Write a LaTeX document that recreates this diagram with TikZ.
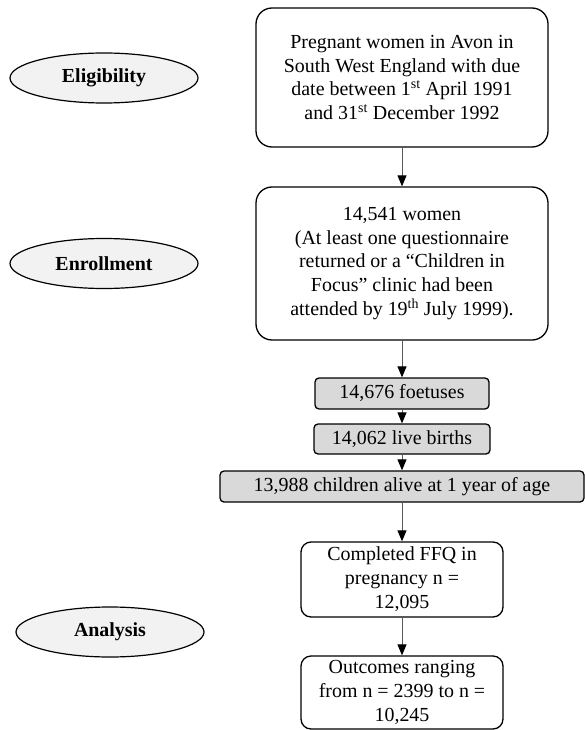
\documentclass[tikz,border=0pt]{standalone}
\usepackage{fontspec}
\setmainfont{Liberation Serif}
\usetikzlibrary{arrows.meta,shapes.geometric}
\begin{document}
\begin{tikzpicture}[x=1bp,y=-1bp,
  every node/.style={font=\fontsize{20}{24}\selectfont, align=center, inner sep=0pt},
  bigbox/.style={draw=black, line width=1.3bp, rounded corners=16bp, fill=white, minimum width=292bp},
  midbox/.style={draw=black, line width=1.3bp, rounded corners=10bp, fill=white, minimum width=202bp, minimum height=74bp},
  graybox/.style={draw=black, line width=1.3bp, rounded corners=4bp, fill=gray!30, minimum height=31bp},
  phase/.style={draw=black, line width=1.2bp, ellipse, fill=gray!10, minimum width=188bp, minimum height=50bp, font=\fontsize{20}{24}\selectfont\bfseries},
  flow/.style={draw=black!65, line width=1bp, -{Triangle[length=11bp,width=9bp,black]}}
]
\useasboundingbox (0,0) rectangle (585,730);
% phase labels
\node[phase] (elig) at (104,78) {Eligibility};
\node[phase] (enrol) at (104,263.5) {Enrollment};
\node[phase] (anal) at (110,632) {Analysis};
% flow boxes
\node[bigbox, minimum height=139bp] (pop) at (402,77.5) {Pregnant women in Avon in\\South West England with due\\date between 1\textsuperscript{st} April 1991\\and 31\textsuperscript{st} December 1992};
\node[bigbox, minimum height=153bp] (women) at (402,263.5) {14,541 women\\(At least one questionnaire\\returned or a “Children in\\Focus” clinic had been\\attended by 19\textsuperscript{th} July 1999).};
\node[graybox, minimum width=174bp] (foet) at (402,393.5) {14,676 foetuses};
\node[graybox, minimum width=176bp, minimum height=30bp] (live) at (402,439) {14,062 live births};
\node[graybox, minimum width=364bp] (alive) at (402,486.5) {13,988 children alive at 1 year of age};
\node[midbox, minimum height=75bp] (ffq) at (402,579.5) {Completed FFQ in\\pregnancy n =\\12,095};
\node[midbox, minimum height=73bp] (out) at (402,692.5) {Outcomes ranging\\from n = 2399 to n =\\10,245};
% connectors
\draw[flow] (pop) -- (women);
\draw[flow] (women) -- (foet);
\draw[flow] (foet) -- (live);
\draw[flow] (live) -- (alive);
\draw[flow] (alive) -- (ffq);
\draw[flow] (ffq) -- (out);
\end{tikzpicture}
\end{document}
